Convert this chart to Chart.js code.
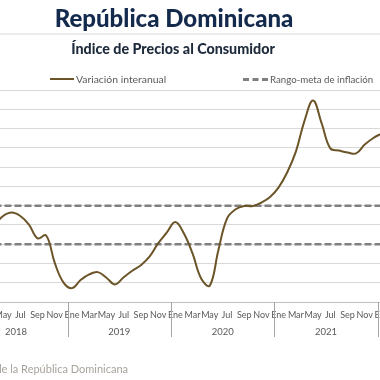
<!DOCTYPE html>
<html>
<head>
<meta charset="utf-8">
<script src="https://cdn.jsdelivr.net/npm/chart.js@4"></script>
<style>
  body { margin: 0; width: 380px; height: 380px; overflow: hidden; position: relative; background: #fff; font-family: Lato, "Noto Sans", sans-serif; }
  #chart { position: absolute; left: 0; top: 0; }
  .txt { position: absolute; white-space: nowrap; }
  #title { left: 0; width: 348px; top: 3px; text-align: center; font-size: 24px; font-weight: 900; color: #142a4c; }
  #rule { position: absolute; left: 0; top: 33px; width: 380px; height: 2px; background: #ececec; }
  #subtitle { left: 0; width: 346px; top: 40px; text-align: center; font-size: 14.3px; font-weight: 900; color: #1e2b3c; }
  .leg { top: 73px; font-size: 10px; color: #595959; }
  .sw { position: absolute; top: 78px; height: 0; }
  #source { right: 252px; top: 362px; font-size: 11px; color: #a8a29c; }
</style>
</head>
<body>
<canvas id="chart" width="380" height="380"></canvas>
<div class="txt" id="title">República Dominicana</div>
<div id="rule"></div>
<div class="txt" id="subtitle">Índice de Precios al Consumidor</div>
<div class="sw" style="left:50px;width:24px;border-top:2px solid #6b5427;"></div>
<div class="txt leg" style="left:76px;font-size:10.4px;">Variación interanual</div>
<div class="sw" style="left:243px;width:25px;border-top:3px dashed #808080;"></div>
<div class="txt leg" style="left:270px;font-size:9.7px;">Rango-meta de inflación</div>
<div class="txt" id="source">Fuente: Banco Central de la República Dominicana</div>
<script>
// months counted from Ene 2018 (index 0)
var monthNames = ['Ene', 'Feb', 'Mar', 'Abr', 'May', 'Jun', 'Jul', 'Ago', 'Sep', 'Oct', 'Nov', 'Dic'];
var years = [2018, 2019, 2020, 2021, 2022];
var firstMonth = 3; // Abr 2018

// Variación interanual del IPC (%), Abr 2018 - Ene 2022
var inflation = [
  4.00, 4.46, 4.64, 4.46, 4.02, 3.30, 3.45, 2.03, 1.02,
  0.72, 1.14, 1.43, 1.55, 1.26, 0.91, 1.28, 1.62, 1.91, 2.35, 3.04, 3.60,
  4.15, 3.55, 2.52, 1.22, 0.85, 2.69, 4.33, 4.81, 4.98, 4.98, 5.16, 5.45,
  5.95, 6.73, 7.80, 9.40, 10.45, 9.26, 7.97, 7.86, 7.76, 7.71, 8.17, 8.51,
  8.75
];

// Rango-meta: 4% +/- 1%
var targetLow = 3;
var targetHigh = 5;

var inflationPts = inflation.map(function (v, i) { return { x: firstMonth + i, y: v }; });
var lowPts = inflation.map(function (v, i) { return { x: firstMonth + i, y: targetLow }; });
var highPts = inflation.map(function (v, i) { return { x: firstMonth + i, y: targetHigh }; });

// year labels and separators under the month ticks
var yearAxis = {
  id: 'yearAxis',
  afterDraw: function (chart) {
    var ctx = chart.ctx;
    var xs = chart.scales.x;
    var bottom = chart.chartArea.bottom;
    ctx.save();
    ctx.strokeStyle = '#a6a6a6';
    ctx.lineWidth = 1;
    ctx.fillStyle = '#595959';
    ctx.font = '9.5px Lato, "Noto Sans", sans-serif';
    ctx.textAlign = 'center';
    ctx.textBaseline = 'middle';
    years.forEach(function (yr, k) {
      var start = k * 12;
      var xb = Math.round(xs.getPixelForValue(start - 0.5)) + 0.5;
      ctx.beginPath();
      ctx.moveTo(xb, bottom);
      ctx.lineTo(xb, bottom + 35);
      ctx.stroke();
      ctx.fillText(String(yr), xs.getPixelForValue(start + 5.5), bottom + 30);
    });
    ctx.restore();
  }
};

new Chart(document.getElementById('chart'), {
  type: 'line',
  data: {
    datasets: [
      { label: 'Variación interanual', data: inflationPts, borderColor: '#6b5427', borderWidth: 2, pointRadius: 0, tension: 0.4, order: 0 },
      { label: 'Rango-meta de inflación', data: highPts, borderColor: '#808080', borderWidth: 2.5, borderDash: [7, 3], pointRadius: 0, order: 1 },
      { label: 'Rango-meta de inflación', data: lowPts, borderColor: '#808080', borderWidth: 2.5, borderDash: [7, 3], pointRadius: 0, order: 1 }
    ]
  },
  options: {
    responsive: false,
    animation: false,
    layout: { autoPadding: false, padding: { top: 90, left: 0, right: 0, bottom: 0 } },
    plugins: { legend: { display: false }, tooltip: { enabled: false } },
    scales: {
      x: {
        type: 'linear',
        min: 3.64,
        max: 47.77,
        grid: { display: false, drawTicks: false },
        border: { color: '#bfbfbf', width: 1 },
        afterBuildTicks: function (axis) {
          var t = [];
          for (var m = 4; m <= 48; m += 2) t.push({ value: m });
          axis.ticks = t;
        },
        afterFit: function (axis) {
          axis.paddingLeft = 0;
          axis.paddingRight = 0;
          axis.height = 78;
        },
        ticks: {
          autoSkip: false,
          maxRotation: 0,
          padding: 8,
          color: '#595959',
          font: { size: 9, family: 'Lato, "Noto Sans", sans-serif' },
          callback: function (v) { return monthNames[((v % 12) + 12) % 12]; }
        }
      },
      y: {
        min: 0,
        max: 11,
        ticks: { display: false, stepSize: 1 },
        grid: { color: '#d9d9d9', lineWidth: 1, drawTicks: false },
        border: { display: false },
        afterFit: function (axis) {
          axis.width = 0;
          axis.paddingTop = 0;
          axis.paddingBottom = 0;
        }
      }
    }
  },
  plugins: [yearAxis]
});
</script>
</body>
</html>
